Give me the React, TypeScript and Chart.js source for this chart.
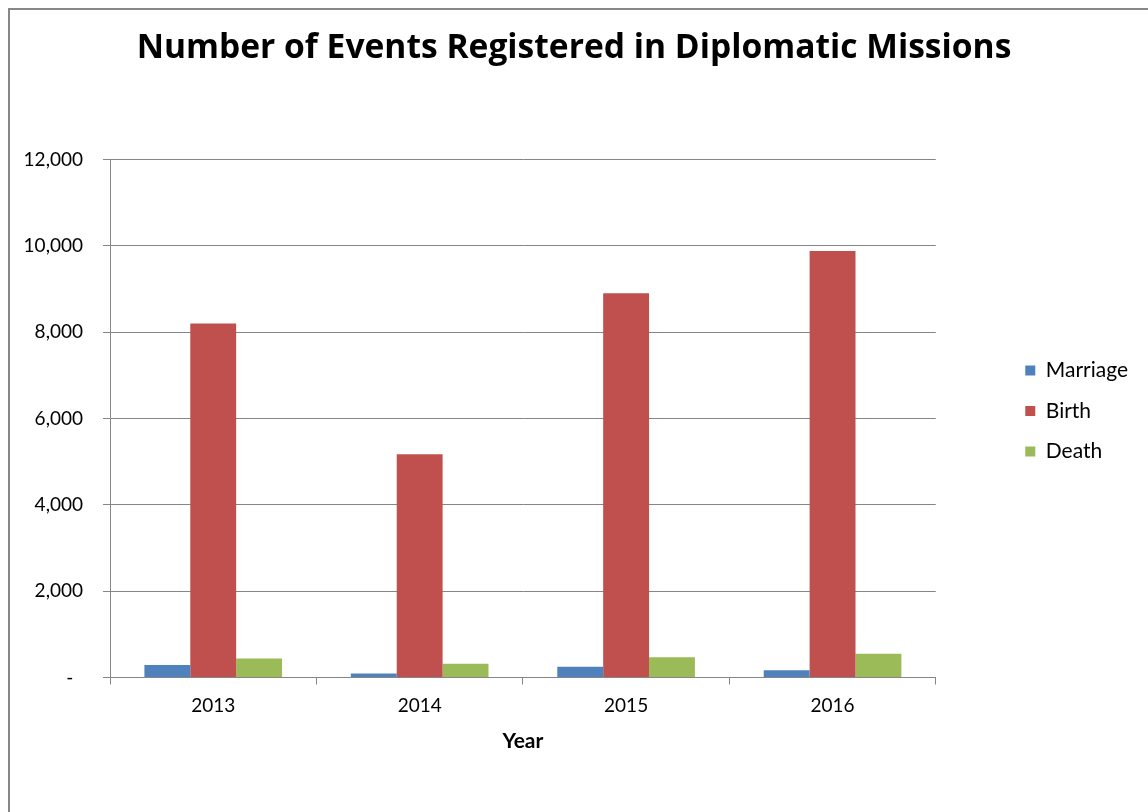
import React, { useEffect, useRef } from 'react';
import { Chart, registerables } from 'chart.js';

Chart.register(...registerables);

const years = ['2013', '2014', '2015', '2016'];
const marriage = [290, 90, 250, 170];
const birth = [8200, 5170, 8900, 9880];
const death = [440, 320, 470, 550];
const seriesNames = ['Marriage', 'Birth', 'Death'];
const seriesColors = ['#4F81BD', '#C0504D', '#9BBB59'];
const yMin = 0;
const yMax = 12000;
const yStep = 2000;

const FONT = 'Lato';
const TITLE_FONT = 'Open Sans';
const GRID = '#868686';

export default function App() {
  const ref = useRef<HTMLCanvasElement>(null);
  useEffect(() => {
    const chart = new Chart(ref.current as HTMLCanvasElement, {
      type: 'bar',
      data: {
        labels: years,
        datasets: [
          { label: seriesNames[0], data: marriage, backgroundColor: seriesColors[0] },
          { label: seriesNames[1], data: birth, backgroundColor: seriesColors[1] },
          { label: seriesNames[2], data: death, backgroundColor: seriesColors[2] },
        ],
      },
      options: {
        animation: false,
        responsive: false,
        devicePixelRatio: 1,
        layout: { padding: { left: 0, right: 10, top: 0, bottom: 0 } },
        datasets: { bar: { categoryPercentage: 0.6667, barPercentage: 1, borderWidth: 0 } },
        plugins: {
          title: {
            display: true,
            text: 'Number of Events Registered in Diplomatic Missions',
            color: '#000',
            font: { family: TITLE_FONT, size: 33.6, weight: 'bold' },
            padding: { top: 18.3, bottom: 90.9 },
          },
          legend: {
            position: 'right',
            labels: {
              boxWidth: 10,
              boxHeight: 10,
              padding: 19.5,
              color: '#000',
              font: { family: FONT, size: 21 },
            },
          },
          tooltip: { enabled: false },
        },
        scales: {
          x: {
            z: 1,
            grid: { display: true, drawOnChartArea: false, drawTicks: true, tickLength: 7, color: GRID, offset: true },
            border: { display: true, color: GRID, width: 1 },
            ticks: { color: '#000', font: { family: FONT, size: 19 }, padding: 10 },
            title: {
              display: true,
              text: 'Year',
              color: '#000',
              font: { family: FONT, size: 21, weight: 'bold' },
              padding: { top: 4, bottom: 58.4 },
            },
            afterFit: (s: any) => { s.height = 134.5; },
          },
          y: {
            min: yMin,
            max: yMax,
            grid: { color: GRID, tickLength: 7, drawTicks: true },
            border: { display: true, color: GRID, width: 1 },
            ticks: {
              stepSize: yStep,
              color: '#000',
              font: { family: FONT, size: 19 },
              padding: 20,
              callback: (v: any) => (Number(v) === 0 ? '-  ' : Number(v).toLocaleString('en-US')),
            },
            afterFit: (s: any) => { s.width = 100; },
          },
          spacer: {
            type: 'linear',
            position: 'right',
            display: true,
            grid: { display: false },
            border: { display: false },
            ticks: { display: false },
            title: { display: false },
            afterFit: (s: any) => { s.width = 70; },
          },
        },
      } as any,
    });
    return () => chart.destroy();
  }, []);
  return (
    <div
      style={{
        position: 'fixed',
        left: 8,
        top: 8,
        width: 1140,
        height: 804,
        borderLeft: '2px solid #878787',
        borderTop: '2px solid #878787',
        boxSizing: 'border-box',
        background: '#fff',
      }}
    >
      <canvas ref={ref} width={1138} height={802} style={{ display: 'block' }} />
    </div>
  );
}
